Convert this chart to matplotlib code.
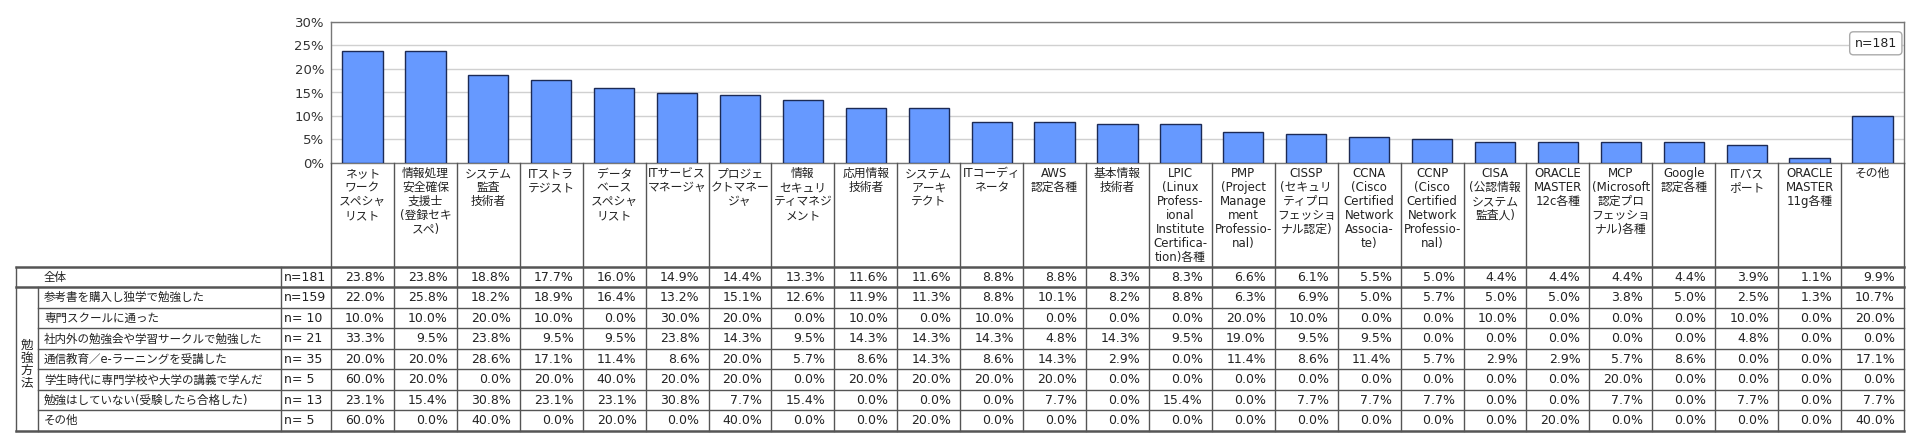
import matplotlib
matplotlib.use("Agg")
import matplotlib.pyplot as plt
from matplotlib.ticker import FuncFormatter

plt.rcParams['font.family'] = ['DejaVu Sans', 'Noto Sans CJK JP']

# ---------------- data ----------------
categories = [
    'ネット\nワーク\nスペシャ\nリスト',
    '情報処理\n安全確保\n支援士\n(登録セキ\nスペ)',
    'システム\n監査\n技術者',
    'ITストラ\nテジスト',
    'データ\nベース\nスペシャ\nリスト',
    'ITサービス\nマネージャ',
    'プロジェ\nクトマネー\nジャ',
    '情報\nセキュリ\nティマネジ\nメント',
    '応用情報\n技術者',
    'システム\nアーキ\nテクト',
    'ITコーディ\nネータ',
    'AWS\n認定各種',
    '基本情報\n技術者',
    'LPIC\n(Linux\nProfess-\nional\nInstitute\nCertifica-\ntion)各種',
    'PMP\n(Project\nManage\nment\nProfessio-\nnal)',
    'CISSP\n(セキュリ\nティプロ\nフェッショ\nナル認定)',
    'CCNA\n(Cisco\nCertified\nNetwork\nAssocia-\nte)',
    'CCNP\n(Cisco\nCertified\nNetwork\nProfessio-\nnal)',
    'CISA\n(公認情報\nシステム\n監査人)',
    'ORACLE\nMASTER\n12c各種',
    'MCP\n(Microsoft\n認定プロ\nフェッショ\nナル)各種',
    'Google\n認定各種',
    'ITパス\nポート',
    'ORACLE\nMASTER\n11g各種',
    'その他',
]

overall =     [23.8, 23.8, 18.8, 17.7, 16.0, 14.9, 14.4, 13.3, 11.6, 11.6, 8.8, 8.8, 8.3, 8.3, 6.6, 6.1, 5.5, 5.0, 4.4, 4.4, 4.4, 4.4, 3.9, 1.1, 9.9]
self_study =  [22.0, 25.8, 18.2, 18.9, 16.4, 13.2, 15.1, 12.6, 11.9, 11.3, 8.8, 10.1, 8.2, 8.8, 6.3, 6.9, 5.0, 5.7, 5.0, 5.0, 3.8, 5.0, 2.5, 1.3, 10.7]
school =      [10.0, 10.0, 20.0, 10.0, 0.0, 30.0, 20.0, 0.0, 10.0, 0.0, 10.0, 0.0, 0.0, 0.0, 20.0, 10.0, 0.0, 0.0, 10.0, 0.0, 0.0, 0.0, 10.0, 0.0, 20.0]
study_group = [33.3, 9.5, 23.8, 9.5, 9.5, 23.8, 14.3, 9.5, 14.3, 14.3, 14.3, 4.8, 14.3, 9.5, 19.0, 9.5, 9.5, 0.0, 0.0, 0.0, 0.0, 0.0, 4.8, 0.0, 0.0]
e_learning =  [20.0, 20.0, 28.6, 17.1, 11.4, 8.6, 20.0, 5.7, 8.6, 14.3, 8.6, 14.3, 2.9, 0.0, 11.4, 8.6, 11.4, 5.7, 2.9, 2.9, 5.7, 8.6, 0.0, 0.0, 17.1]
university =  [60.0, 20.0, 0.0, 20.0, 40.0, 20.0, 20.0, 0.0, 20.0, 20.0, 20.0, 20.0, 0.0, 0.0, 0.0, 0.0, 0.0, 0.0, 0.0, 0.0, 20.0, 0.0, 0.0, 0.0, 0.0]
no_study =    [23.1, 15.4, 30.8, 23.1, 23.1, 30.8, 7.7, 15.4, 0.0, 0.0, 0.0, 7.7, 0.0, 15.4, 0.0, 7.7, 7.7, 7.7, 0.0, 0.0, 7.7, 0.0, 7.7, 0.0, 7.7]
other =       [60.0, 0.0, 40.0, 0.0, 20.0, 0.0, 40.0, 0.0, 0.0, 20.0, 0.0, 0.0, 0.0, 0.0, 0.0, 0.0, 0.0, 0.0, 0.0, 20.0, 0.0, 0.0, 0.0, 0.0, 40.0]

row_labels = ['全体', '参考書を購入し独学で勉強した', '専門スクールに通った',
              '社内外の勉強会や学習サークルで勉強した', '通信教育／e-ラーニングを受講した',
              '学生時代に専門学校や大学の講義で学んだ', '勉強はしていない(受験したら合格した)', 'その他']
row_n = ['n=181', 'n=159', 'n= 10', 'n= 21', 'n= 35', 'n= 5', 'n= 13', 'n= 5']
row_values = [overall, self_study, school, study_group, e_learning, university, no_study, other]
section_label = '勉強方法'
y_ticks = [0, 5, 10, 15, 20, 25, 30]
n_note = 'n=181'

# ---------------- layout (pixels) ----------------
W, H = 1920, 448
AX_L, AX_R, AX_T, AX_B = 331, 1904, 22, 163
TAB_TOP, ROW_H = 267, 20.5
TAB_L, SEC_R, N_L = 16, 38, 281

BAR_COLOR = '#6699ff'
EDGE = '#1c2a55'
LINE = '#555555'
TXT = '#222222'

fig = plt.figure(figsize=(W / 100, H / 100), dpi=100)
ax = fig.add_axes([AX_L / W, 1 - AX_B / H, (AX_R - AX_L) / W, (AX_B - AX_T) / H])
x = list(range(len(categories)))
ax.bar(x, overall, width=0.64, color=BAR_COLOR, edgecolor=EDGE, linewidth=1, zorder=3)
ax.set_xlim(-0.5, len(categories) - 0.5)
ax.set_ylim(0, 30)
ax.set_yticks(y_ticks)
ax.yaxis.set_major_formatter(FuncFormatter(lambda v, p: f'{v:.0f}%'))
ax.tick_params(axis='y', length=0, pad=5, labelsize=9.5, labelcolor='#333333')
ax.set_xticks([])
ax.grid(axis='y', color='#d0d0d0', linewidth=1, zorder=0)
for s in ax.spines.values():
    s.set_color('#777777')
    s.set_linewidth(1)
ax.text(0.9955, 0.895, n_note, transform=ax.transAxes, ha='right', va='top', fontsize=9,
        color=TXT, bbox=dict(boxstyle='round,pad=0.4,rounding_size=0.3', fc='white', ec='#aaaaaa', lw=1),
        zorder=5)

# overlay axes in pixel coordinates (y downward)
tab = fig.add_axes([0, 0, 1, 1], facecolor='none')
tab.set_xlim(0, W)
tab.set_ylim(H, 0)
tab.axis('off')

def col_x(v):
    return ax.transData.transform((v, 0))[0]

n_rows = len(row_labels)
TAB_BOT = TAB_TOP + n_rows * ROW_H
bounds = [col_x(i - 0.5) for i in range(len(categories) + 1)]

# header labels and vertical lines
for i, lab in enumerate(categories):
    tab.text(col_x(i), AX_B + 4, lab, ha='center', va='top', fontsize=8.5, color=TXT,
             linespacing=1.1, multialignment='center')
for bx in bounds:
    tab.plot([bx, bx], [AX_B, TAB_BOT], color=LINE, lw=1)

# table grid
tab.plot([TAB_L, AX_R], [TAB_TOP, TAB_TOP], color=LINE, lw=1.8)
tab.plot([TAB_L, AX_R], [TAB_TOP + ROW_H, TAB_TOP + ROW_H], color=LINE, lw=1.8)
for r in range(2, n_rows):
    y = TAB_TOP + r * ROW_H
    tab.plot([SEC_R, AX_R], [y, y], color=LINE, lw=1)
tab.plot([TAB_L, AX_R], [TAB_BOT, TAB_BOT], color=LINE, lw=1.8)
tab.plot([TAB_L, TAB_L], [TAB_TOP, TAB_BOT], color=LINE, lw=1)
tab.plot([SEC_R, SEC_R], [TAB_TOP + ROW_H, TAB_BOT], color=LINE, lw=1)
tab.plot([N_L, N_L], [TAB_TOP, TAB_BOT], color=LINE, lw=1)

# section label (vertical)
sec_mid = (TAB_TOP + ROW_H + TAB_BOT) / 2 + 5
tab.text((TAB_L + SEC_R) / 2, sec_mid, '\n'.join(section_label), ha='center', va='center',
         fontsize=9, color=TXT, linespacing=0.95)

# rows
for r in range(n_rows):
    yc = TAB_TOP + (r + 0.5) * ROW_H
    lx = TAB_L + 28 if r == 0 else SEC_R + 6
    tab.text(lx, yc, row_labels[r], ha='left', va='center', fontsize=8.3, color=TXT)
    tab.text(N_L + 3, yc, row_n[r], ha='left', va='center', fontsize=9, color=TXT)
    for i, v in enumerate(row_values[r]):
        tab.text(bounds[i + 1] - 9, yc, f'{v:.1f}%', ha='right', va='center', fontsize=9, color=TXT)

fig.savefig('out.png', dpi=100)
